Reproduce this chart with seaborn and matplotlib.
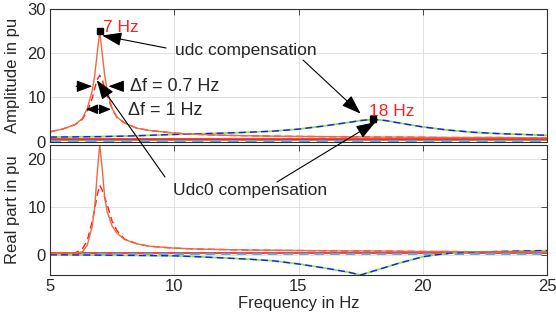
import numpy as np
import pandas as pd
import matplotlib
matplotlib.use("Agg")
import matplotlib.pyplot as plt
import seaborn as sns

# ---------------- data ----------------
freq = [5, 5.5, 6, 6.3, 6.5, 6.7, 6.8, 6.9, 7.0, 7.1, 7.2, 7.3, 7.5, 7.7, 8, 8.5, 9,
        10, 11, 12, 13, 14, 15, 16, 17, 17.5, 18, 18.5, 19, 20, 21, 22, 23, 24, 25]

amp_udc0_solid = [2.2, 2.8, 3.8, 5.2, 7.5, 11.5, 15, 20, 25, 20, 15, 11.5, 7.5, 5.5, 4.2, 3.0, 2.5,
                  1.9, 1.6, 1.4, 1.3, 1.2, 1.15, 1.1, 1.05, 1.05, 1.0, 1.0, 1.0, 0.95, 0.9, 0.9, 0.9, 0.85, 0.85]
amp_udc0_dash = [2.2, 2.8, 3.8, 5.0, 6.8, 9.8, 12.0, 14.0, 15.0, 14.0, 12.2, 10.4, 7.4, 5.4, 4.2, 3.0, 2.5,
                 1.9, 1.6, 1.4, 1.3, 1.2, 1.15, 1.1, 1.05, 1.05, 1.0, 1.0, 1.0, 0.95, 0.9, 0.9, 0.9, 0.85, 0.85]
amp_udc = [1.0, 1.02, 1.05, 1.07, 1.08, 1.09, 1.1, 1.1, 1.1, 1.12, 1.13, 1.14, 1.16, 1.18, 1.22, 1.3, 1.4,
           1.6, 1.75, 1.9, 2.1, 2.35, 2.8, 3.5, 4.3, 4.75, 5.0, 4.75, 4.25, 3.3, 2.6, 2.1, 1.8, 1.6, 1.4]
amp_flat_red = [0.6] * len(freq)
amp_flat_olive = [0.35] * len(freq)
amp_flat_cyan = [0.12] * len(freq)

re_udc0_solid = [0.3, 0.35, 0.4, 0.6, 2.0, 6.0, 10.0, 17.0, 23.0, 18.0, 12.0, 9.0, 6.0, 4.5, 3.2, 2.3, 1.8,
                 1.4, 1.2, 1.1, 1.0, 0.95, 0.9, 0.85, 0.8, 0.8, 0.8, 0.78, 0.75, 0.7, 0.7, 0.65, 0.6, 0.6, 0.55]
re_udc0_dash = [0.3, 0.35, 0.4, 1.2, 3.0, 7.0, 9.5, 12.5, 14.5, 13.5, 12.0, 10.5, 7.0, 5.0, 3.3, 2.3, 1.8,
                1.4, 1.2, 1.1, 1.0, 0.95, 0.9, 0.85, 0.8, 0.8, 0.8, 0.78, 0.75, 0.7, 0.7, 0.65, 0.6, 0.6, 0.55]
re_udc = [0.0, 0.0, -0.02, -0.03, -0.04, -0.05, -0.05, -0.05, -0.06, -0.06, -0.07, -0.07, -0.08, -0.09, -0.1, -0.12, -0.15,
          -0.2, -0.4, -0.65, -0.9, -1.25, -1.9, -2.7, -3.6, -4.2, -3.4, -2.6, -1.8, -0.4, 0.35, 0.55, 0.7, 0.8, 0.9]
re_flat_red = [0.45] * len(freq)
re_flat_cyan = [0.1] * len(freq)

xticks = [5, 10, 15, 20, 25]
top_yticks = [0, 10, 20, 30]
bot_yticks = [0, 10, 20]

# ---------------- style ----------------
sns.set_theme(style="white")
plt.rcParams['font.family'] = ['Liberation Sans', 'DejaVu Sans']
plt.rcParams['font.size'] = 12

C_ORANGE = "#EE6A3E"
C_RED = "#FF1A1A"
C_GREEN = "#8CE05A"
C_BLUE = "#1A1AFF"
C_CYAN = "#4DAEE8"
C_OLIVE = "#9A7E2E"
TXT = "#262626"
FS_TICK = 12
FS_ANN = 12.5

fig = plt.figure(figsize=(5.56, 3.21), dpi=100)
W, H = 556, 321
ax2 = fig.add_axes([50 / W, 1 - 275 / H, 497 / W, 130 / H])
ax1 = fig.add_axes([50 / W, 1 - 141.5 / H, 497 / W, 132.5 / H])
ax1.set_zorder(ax2.get_zorder() + 1)

def draw(ax, y, color, dashed=False, lw=1.0):
    sns.lineplot(x=freq, y=y, ax=ax, color=color, lw=lw)
    if dashed:
        ax.lines[-1].set_dashes([5, 3])

# top panel
draw(ax1, amp_flat_olive, C_OLIVE, lw=1.2)
draw(ax1, amp_flat_cyan, C_CYAN, dashed=True, lw=1.6)
draw(ax1, amp_flat_red, C_RED, lw=1.2)
draw(ax1, amp_udc, C_GREEN, lw=1.3)
draw(ax1, amp_udc, C_BLUE, dashed=True, lw=1.0)
draw(ax1, amp_udc0_dash, C_RED, dashed=True, lw=1.0)
draw(ax1, amp_udc0_solid, C_ORANGE, lw=1.0)

# bottom panel
draw(ax2, re_flat_red, C_RED, lw=1.2)
draw(ax2, re_flat_cyan, C_CYAN, dashed=True, lw=1.4)
draw(ax2, re_udc, C_GREEN, lw=1.3)
draw(ax2, re_udc, C_BLUE, dashed=True, lw=1.0)
draw(ax2, re_udc0_dash, C_RED, dashed=True, lw=1.0)
draw(ax2, re_udc0_solid, C_ORANGE, lw=1.0)

for ax in (ax1, ax2):
    ax.set_xlim(5, 25)
    ax.set_xticks(xticks)
    ax.grid(True, color="#E2E2E2", lw=0.7)
    ax.set_axisbelow(True)
    for s in ax.spines.values():
        s.set_color("#303030")
        s.set_linewidth(0.8)
    ax.tick_params(direction="in", length=4, width=0.6, color="#303030",
                   top=True, right=True, labelsize=FS_TICK, labelcolor=TXT, pad=3)

ax1.set_ylim(0, 30)
ax1.set_yticks(top_yticks)
ax1.set_xticklabels([])
ax2.set_ylim(-4.2, 22.9)
ax2.set_yticks(bot_yticks)
ax2.set_xticklabels([str(v) for v in xticks])

ax1.set_ylabel("Amplitude in pu", fontsize=FS_TICK, color=TXT)
ax2.set_ylabel("Real part in pu", fontsize=FS_TICK, color=TXT)
ax2.set_xlabel("Frequency in Hz", fontsize=FS_TICK, color=TXT, labelpad=1)
ax1.yaxis.set_label_coords(-0.06, 0.5)
ax2.yaxis.set_label_coords(-0.06, 0.5)

# markers
ax1.plot([7.0], [25.0], marker="s", ms=4, color="black", zorder=5)
ax1.plot([18.0], [5.0], marker="s", ms=4, color="black", zorder=5)
ax1.text(7.15, 25.9, "7 Hz", color="#FF2020", fontsize=FS_ANN, va="center", ha="left")
ax1.text(17.85, 6.9, "18 Hz", color="#FF2020", fontsize=FS_ANN, va="center", ha="left")

arrow_kw = dict(arrowstyle="-|>,head_length=1.0,head_width=0.35", color="black", lw=0.8,
                shrinkA=0, shrinkB=0)

def fp(x, y):
    return (x / W, 1 - y / H)

# udc compensation
fig.text(*fp(175, 50), "udc compensation", fontsize=FS_ANN, color=TXT, va="center", ha="left")
ax1.annotate("", xy=(7.1, 24.0), xytext=fp(166, 48), textcoords="figure fraction",
             arrowprops=arrow_kw, annotation_clip=False)
ax1.annotate("", xy=(17.5, 6.3), xytext=fp(303, 60), textcoords="figure fraction",
             arrowprops=arrow_kw, annotation_clip=False)

# Udc0 compensation
fig.text(*fp(173, 191), "Udc0 compensation", fontsize=FS_ANN, color=TXT, va="center", ha="left")
ax1.annotate("", xy=(6.88, 13.9), xytext=fp(165, 177), textcoords="figure fraction",
             arrowprops=arrow_kw, annotation_clip=False)
ax1.annotate("", xy=(18.1, 4.4), xytext=fp(277, 182), textcoords="figure fraction",
             arrowprops=arrow_kw, annotation_clip=False)

# delta f annotations
small_kw = dict(arrowstyle="-|>,head_length=0.8,head_width=0.3", color="black", lw=0.8,
                shrinkA=0, shrinkB=0)
ax1.annotate("", xy=(6.7, 12.5), xytext=(6.05, 12.5), arrowprops=small_kw)
ax1.annotate("", xy=(7.35, 12.5), xytext=(7.95, 12.5), arrowprops=small_kw)
ax1.text(8.2, 12.5, "\u0394f = 0.7 Hz", fontsize=13, color=TXT, va="center", ha="left")
dbl_kw = dict(arrowstyle="<|-|>,head_length=0.6,head_width=0.25", color="black", lw=0.8,
              shrinkA=0, shrinkB=0)
ax1.annotate("", xy=(7.45, 7.3), xytext=(6.45, 7.3), arrowprops=dbl_kw)
ax1.text(8.15, 7.0, "\u0394f = 1 Hz", fontsize=13, color=TXT, va="center", ha="left")

fig.savefig("out.png", dpi=100)
